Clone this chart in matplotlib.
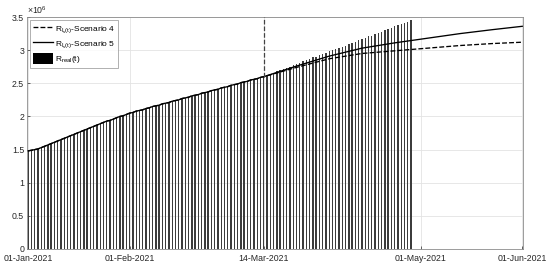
#!/usr/bin/env python3

import matplotlib
matplotlib.use('Agg')
import matplotlib.pyplot as plt
import matplotlib.dates as mdates
import numpy as np
import datetime

plt.rcParams['font.family'] = ['Liberation Sans', 'DejaVu Sans']
plt.rcParams['mathtext.fontset'] = 'custom'
plt.rcParams['mathtext.rm'] = 'Liberation Sans'
plt.rcParams['mathtext.it'] = 'Liberation Sans'

# daily real values (x 1e6), 01-Jan-2021 .. 28-Apr-2021
real_jan = [1.48, 1.49, 1.50, 1.51, 1.53, 1.55, 1.57, 1.59, 1.61, 1.63, 1.65,
            1.67, 1.69, 1.71, 1.73, 1.75, 1.77, 1.79, 1.81, 1.83, 1.85, 1.87,
            1.89, 1.91, 1.93, 1.94, 1.96, 1.98, 2.00, 2.01, 2.03]
real_feb = [2.05, 2.06, 2.08, 2.09, 2.10, 2.12, 2.13, 2.15, 2.16, 2.17, 2.19,
            2.20, 2.21, 2.23, 2.24, 2.25, 2.27, 2.28, 2.29, 2.31, 2.32, 2.33,
            2.35, 2.36, 2.37, 2.39, 2.40, 2.41]
real_mar = [2.43, 2.44, 2.45, 2.47, 2.48, 2.49, 2.51, 2.52, 2.53, 2.55, 2.56,
            2.57, 2.59, 2.60, 2.62, 2.64, 2.66, 2.68, 2.70, 2.72, 2.73, 2.75,
            2.77, 2.79, 2.81, 2.83, 2.85, 2.87, 2.89, 2.90, 2.92]
real_apr = [2.94, 2.96, 2.98, 3.00, 3.02, 3.04, 3.05, 3.07, 3.09, 3.11, 3.13,
            3.15, 3.17, 3.19, 3.21, 3.22, 3.24, 3.26, 3.28, 3.30, 3.32, 3.34,
            3.36, 3.38, 3.39, 3.41, 3.43, 3.45]
real_vals = real_jan + real_feb + real_mar + real_apr

# scenario curves after the cut date (x 1e6)
scen_dates = ['2021-03-14', '2021-03-24', '2021-04-03', '2021-04-13', '2021-04-23',
              '2021-05-03', '2021-05-13', '2021-05-23', '2021-06-01']
scen4 = [2.60, 2.74, 2.87, 2.95, 2.99, 3.03, 3.07, 3.10, 3.12]
scen5 = [2.60, 2.76, 2.91, 3.03, 3.11, 3.18, 3.25, 3.31, 3.36]

cut_date = datetime.datetime(2021, 3, 14)
tick_dates = ['2021-01-01', '2021-02-01', '2021-03-14', '2021-05-01', '2021-06-01']

start = datetime.datetime(2021, 1, 1)
days = [start + datetime.timedelta(days=i) for i in range(len(real_vals))]
sdates = [datetime.datetime.fromisoformat(d) for d in scen_dates]
n_fit = (cut_date - start).days
fit_x = days[:n_fit] + sdates
fit4 = real_vals[:n_fit] + scen4
fit5 = real_vals[:n_fit] + scen5

fig = plt.figure(figsize=(5.5, 2.66), dpi=100)
ax = fig.add_axes([0.049, 0.064, 0.902, 0.872])

b = ax.bar(days, real_vals, width=0.42, color='#3c3c3c', linewidth=0, zorder=2)
l4, = ax.plot(fit_x, fit4, '--', color='black', lw=0.95, zorder=3)
l5, = ax.plot(fit_x, fit5, '-', color='black', lw=0.95, zorder=3)
ax.vlines(cut_date, scen5[0], 3.5, colors='#444444', linestyles='--', lw=0.9, zorder=3)

ax.set_xlim(start - datetime.timedelta(days=0.4), datetime.datetime(2021, 6, 1, 6))
ax.set_ylim(0, 3.5)
ax.set_xticks([datetime.datetime.fromisoformat(d) for d in tick_dates])
ax.xaxis.set_major_formatter(mdates.DateFormatter('%d-%b-%Y'))
ax.set_yticks(np.arange(0, 3.51, 0.5))
ax.set_yticklabels(['0', '0.5', '1', '1.5', '2', '2.5', '3', '3.5'])
ax.tick_params(direction='in', length=2, width=0.5, labelsize=6.3, colors='#262626')
ax.tick_params(axis='x', pad=3.5)
ax.tick_params(axis='y', pad=2)
ax.grid(True, color='#e3e3e3', lw=0.6, zorder=0)
ax.set_axisbelow(True)
for s in ax.spines.values():
    s.set_color('#8c8c8c')
    s.set_linewidth(0.6)
ax.text(0.0, 1.005, r'$\times10^6$', transform=ax.transAxes, fontsize=6.3,
        color='#262626', ha='left', va='bottom')

leg = ax.legend([l4, l5, b],
                [r'$\mathregular{R_{I_s(t)}}$-Scenario 4',
                 r'$\mathregular{R_{I_s(t)}}$-Scenario 5',
                 r'$\mathregular{R_{real}(t)}$'],
                loc='upper left', fontsize=6, frameon=True, fancybox=False,
                handlelength=2.4, handleheight=1.6, borderpad=0.3,
                labelspacing=0.35, handletextpad=0.3, borderaxespad=0.4)
leg.get_frame().set_edgecolor('#8c8c8c')
leg.get_frame().set_linewidth(0.6)
leg.legend_handles[2].set_color('black')

fig.savefig('out.png', dpi=100)
